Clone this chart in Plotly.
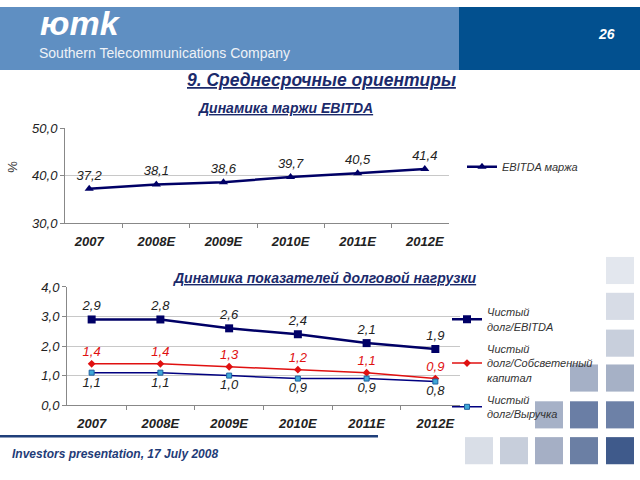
import plotly.graph_objects as go

# ---- data ----
years = ["2007", "2008E", "2009E", "2010E", "2011E", "2012E"]
ebitda_margin = [37.2, 38.1, 38.6, 39.7, 40.5, 41.4]
ebitda_labels = ["37,2", "38,1", "38,6", "39,7", "40,5", "41,4"]

nd_ebitda = [2.9, 2.9, 2.6, 2.4, 2.1, 1.9]
nd_ebitda_labels = ["2,9", "2,8", "2,6", "2,4", "2,1", "1,9"]
nd_equity = [1.4, 1.4, 1.3, 1.2, 1.1, 0.9]
nd_equity_labels = ["1,4", "1,4", "1,3", "1,2", "1,1", "0,9"]
nd_revenue = [1.1, 1.1, 1.0, 0.9, 0.9, 0.8]
nd_revenue_labels = ["1,1", "1,1", "1,0", "0,9", "0,9", "0,8"]

W, H = 640, 480
def px(x):
    return x / W
def py(y):
    return 1 - y / H

FONT = "Liberation Sans, Arial, sans-serif"
NAVY = "#000066"
LBL = 13

fig = go.Figure()

fig.add_trace(go.Scatter(
    x=years, y=ebitda_margin, text=ebitda_labels, name="EBITDA маржа",
    mode="lines+markers+text", textposition="top center",
    textfont=dict(family=FONT, size=LBL, color="#222", style="italic"),
    line=dict(color=NAVY, width=2.5),
    marker=dict(symbol="triangle-up", size=8, color=NAVY),
    xaxis="x", yaxis="y", legend="legend", cliponaxis=False,
))

fig.add_trace(go.Scatter(
    x=years, y=nd_ebitda, text=nd_ebitda_labels, name="Чистый<br>долг/EBITDA",
    mode="lines+markers+text", textposition="top center",
    textfont=dict(family=FONT, size=LBL, color="#222", style="italic"),
    line=dict(color=NAVY, width=2.5),
    marker=dict(symbol="square", size=8, color=NAVY),
    xaxis="x2", yaxis="y2", legend="legend2", legendgroup="a", cliponaxis=False,
))
fig.add_trace(go.Scatter(
    x=years, y=nd_equity, text=nd_equity_labels, name="Чистый<br>долг/Собсветенный<br>капитал",
    mode="lines+markers+text", textposition="top center",
    textfont=dict(family=FONT, size=LBL, color="#e01010", style="italic"),
    line=dict(color="#e01010", width=1.5),
    marker=dict(symbol="diamond", size=6, color="#e01010"),
    xaxis="x2", yaxis="y2", legend="legend2", legendgroup="b", cliponaxis=False,
))
fig.add_trace(go.Scatter(
    x=years, y=nd_revenue, text=nd_revenue_labels, name="Чистый<br>долг/Выручка",
    mode="lines+markers+text", textposition="bottom center",
    textfont=dict(family=FONT, size=LBL, color="#222", style="italic"),
    line=dict(color="#000080", width=1.5),
    marker=dict(symbol="square", size=5, color="#3fa9d8", line=dict(color="#1f5f9f", width=1)),
    xaxis="x2", yaxis="y2", legend="legend2", legendgroup="c", cliponaxis=False,
))

axis_common = dict(showline=True, linecolor="#888", linewidth=1, zeroline=False)
tickf = dict(family=FONT, size=13, color="#222", style="italic")
xtickf = dict(family=FONT, size=13, color="#222", style="italic", weight="bold")

shapes = [
    dict(type="rect", xref="paper", yref="paper", x0=px(0), x1=px(459), y0=py(65), y1=py(0),
         fillcolor="#5f8fc2", line=dict(width=0), layer="below"),
    dict(type="rect", xref="paper", yref="paper", x0=px(459), x1=px(640), y0=py(65), y1=py(0),
         fillcolor="#02508f", line=dict(width=0), layer="below"),
    dict(type="line", xref="paper", yref="paper", x0=px(0), x1=px(378), y0=py(443), y1=py(443),
         line=dict(color="#1f3f7a", width=2.5)),
]
squares = [
    (606, 258, "#e3e7ee"), (606, 295, "#d7dce6"), (606, 333, "#c8cfdc"),
    (606, 369, "#a6b1c6"), (606, 407, "#6d81a7"), (606, 444, "#3f5a8b"),
    (570, 369, "#a5b0c6"), (570, 407, "#6a7ea5"), (570, 444, "#6b7fa4"),
    (535, 407, "#a6b1c7"), (535, 444, "#a5afc5"),
    (500, 444, "#c7cedb"), (465, 444, "#d9dee7"),
]
for (sx, sy, c) in squares:
    shapes.append(dict(type="rect", xref="paper", yref="paper",
                       x0=px(sx), x1=px(sx + 28), y0=py(sy + 28), y1=py(sy),
                       fillcolor=c, line=dict(width=0), layer="below"))

ann = [
    dict(text="<b><i>юmk</i></b>", x=px(38), y=py(17), xanchor="left", yanchor="middle",
         font=dict(family=FONT, size=34, color="white")),
    dict(text="Southern Telecommunications Company", x=px(37), y=py(47), xanchor="left", yanchor="middle",
         font=dict(family=FONT, size=14, color="#eef2f7")),
    dict(text="<b><i>26</i></b>", x=px(606), y=py(28), xanchor="center", yanchor="middle",
         font=dict(family=FONT, size=14, color="white")),
    dict(text="<b><i><u>9. Среднесрочные ориентиры</u></i></b>", x=px(321), y=py(75), xanchor="center", yanchor="middle",
         font=dict(family=FONT, size=17.5, color="#1b2a6b")),
    dict(text="<b><i><u>Динамика маржи EBITDA</u></i></b>", x=px(285), y=py(104), xanchor="center", yanchor="middle",
         font=dict(family=FONT, size=14, color="#1b2a6b")),
    dict(text="<b><i><u>Динамика показателей долговой нагрузки</u></i></b>", x=px(325), y=py(280), xanchor="center", yanchor="middle",
         font=dict(family=FONT, size=14, color="#1b2a6b")),
    dict(text="%", x=px(13), y=py(165), xanchor="center", yanchor="middle", textangle=-90,
         font=dict(family=FONT, size=13, color="#333")),
    dict(text="<b><i>Investors presentation, 17 July 2008</i></b>", x=px(10), y=py(461), xanchor="left", yanchor="middle",
         font=dict(family=FONT, size=12, color="#1f3c78")),
]
for a in ann:
    a.update(xref="paper", yref="paper", showarrow=False)

fig.update_layout(
    width=W, height=H, margin=dict(l=0, r=0, t=0, b=0),
    paper_bgcolor="white", plot_bgcolor="white",
    separators=", ",
    font=dict(family=FONT),
    xaxis=dict(domain=[px(65), px(449)], anchor="y", tickson="boundaries", ticks="outside", ticklen=4,
               tickcolor="#888", tickfont=xtickf, showgrid=False, ticklabelstandoff=6, **axis_common),
    yaxis=dict(domain=[py(223), py(125)], anchor="x", range=[30, 50], dtick=10, tickformat=".1f",
               ticks="outside", ticklen=4, tickcolor="#888", tickfont=tickf,
               showgrid=True, gridcolor="#c8c8c8", **axis_common),
    xaxis2=dict(domain=[px(67), px(460)], anchor="y2", tickson="boundaries", ticks="outside", ticklen=4,
                tickcolor="#888", tickfont=xtickf, showgrid=False, ticklabelstandoff=6, **axis_common),
    yaxis2=dict(domain=[py(411), py(289)], anchor="x2", range=[0, 4], dtick=1, tickformat=".1f",
                ticks="outside", ticklen=4, tickcolor="#888", tickfont=tickf,
                showgrid=True, gridcolor="#c8c8c8", **axis_common),
    legend=dict(x=px(462), y=py(165), xanchor="left", yanchor="middle", bgcolor="rgba(0,0,0,0)",
                font=dict(family=FONT, size=11, color="#333", style="italic"), itemwidth=30),
    legend2=dict(x=px(447), y=py(368), xanchor="left", yanchor="middle", bgcolor="rgba(0,0,0,0)",
                 font=dict(family=FONT, size=11, color="#333", style="italic"), itemwidth=30,
                 tracegroupgap=5),
    shapes=shapes, annotations=ann, showlegend=True,
)

fig.write_html("out.html")
